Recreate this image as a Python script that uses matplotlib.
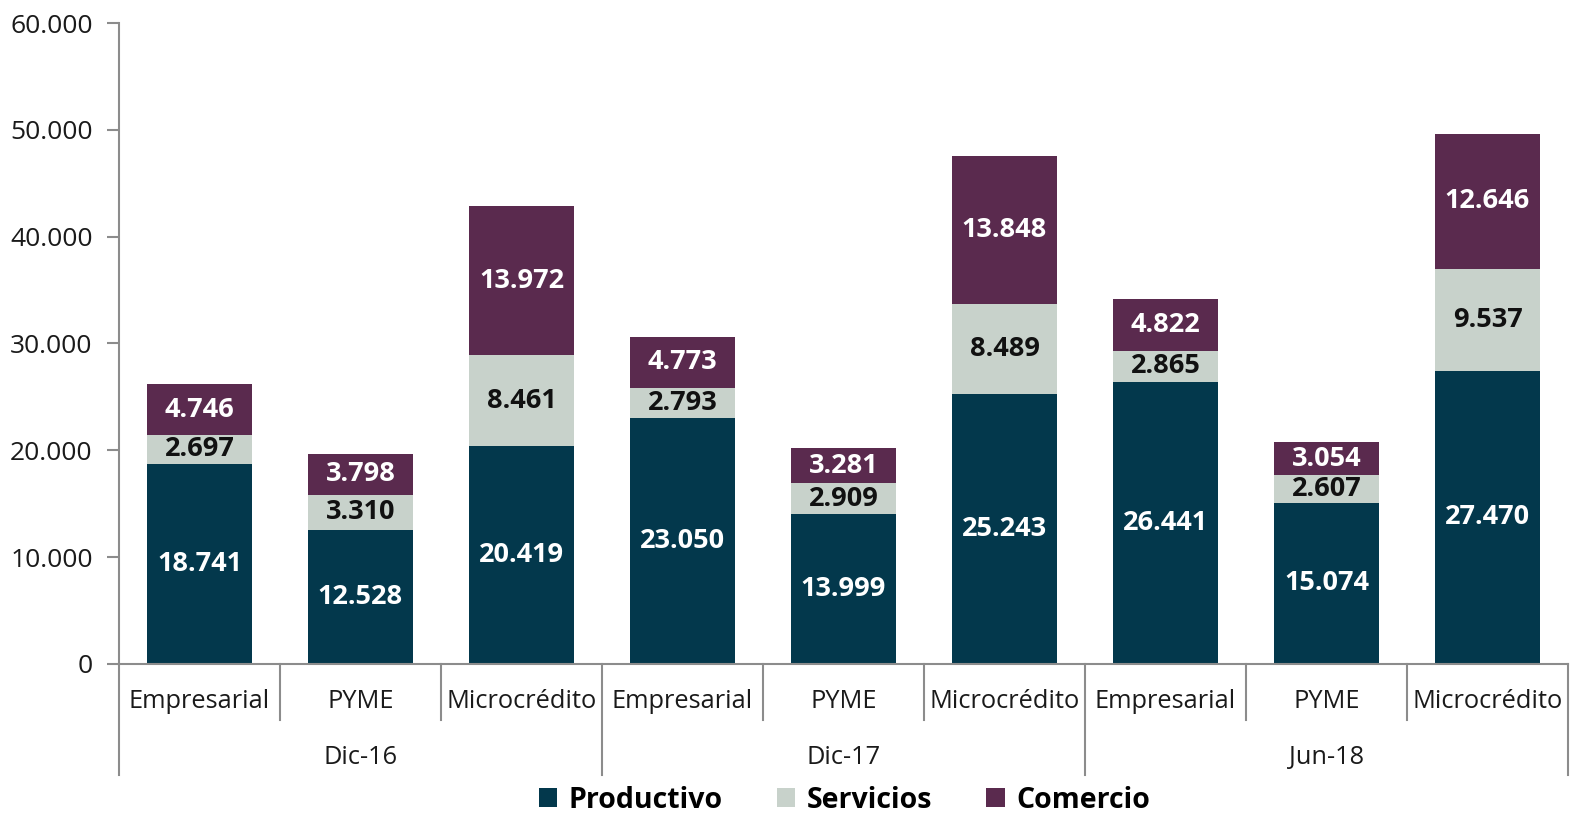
import matplotlib.pyplot as plt
from matplotlib.patches import Patch
import numpy as np

# Values
periodos = ['Dic-16', 'Dic-17', 'Jun-18']
carteras = ['Empresarial', 'PYME', 'Microcrédito']
productivo = [18741, 12528, 20419, 23050, 13999, 25243, 26441, 15074, 27470]
servicios = [2697, 3310, 8461, 2793, 2909, 8489, 2865, 2607, 9537]
comercio = [4746, 3798, 13972, 4773, 3281, 13848, 4822, 3054, 12646]
series_names = ['Productivo', 'Servicios', 'Comercio']
y_ticks = [0, 10000, 20000, 30000, 40000, 50000, 60000]

colors = ['#03384C', '#C8D2CB', '#5A2A4E']
text_colors = ['white', '#111111', 'white']
grey = '#8C8C8C'


def fmt(v):
    return f'{v:,.0f}'.replace(',', '.')


def main():
    plt.rcParams['font.family'] = ['Open Sans', 'DejaVu Sans']

    fig = plt.figure(figsize=(15.78, 8.19), dpi=100)
    ax = fig.add_axes([0.0754, 0.1893, 0.9183, 0.7826])

    x = np.arange(len(productivo))
    bottom = np.zeros(len(x))
    for vals, col, tcol in zip([productivo, servicios, comercio], colors, text_colors):
        ax.bar(x, vals, width=0.65, bottom=bottom, color=col)
        for xi, b, v in zip(x, bottom, vals):
            ax.text(xi, b + v / 2, fmt(v), ha='center', va='center',
                    color=tcol, fontsize=19.5, fontweight='bold')
        bottom = bottom + np.array(vals)

    ax.set_xlim(-0.5, len(x) - 0.5)
    ax.set_ylim(0, 60000)
    ax.set_yticks(y_ticks)
    ax.set_yticklabels([fmt(v) for v in y_ticks], fontsize=19, color='#1a1a1a')
    ax.tick_params(axis='y', length=9, width=1.5, color=grey, pad=10)

    for s in ['top', 'right']:
        ax.spines[s].set_visible(False)
    for s in ['left', 'bottom']:
        ax.spines[s].set_color(grey)
        ax.spines[s].set_linewidth(1.5)

    # hierarchical category axis
    ax.set_xticks([])
    trans = ax.get_xaxis_transform()
    n_sub = len(carteras)
    for i in range(len(x)):
        ax.text(i, -0.059, carteras[i % n_sub], transform=trans, ha='center',
                va='center', fontsize=18.3, color='#1a1a1a')
    for g, p in enumerate(periodos):
        ax.text(g * n_sub + 1, -0.146, p, transform=trans, ha='center',
                va='center', fontsize=18.3, color='#1a1a1a')
    for i in range(len(x) + 1):
        edge = i - 0.5
        bottom_y = -0.173 if i % n_sub == 0 else -0.087
        ax.plot([edge, edge], [0, bottom_y], transform=trans, color=grey,
                lw=1.5, clip_on=False)

    handles = [Patch(facecolor=c, label=n) for c, n in zip(colors, series_names)]
    fig.legend(handles=handles, loc='center', bbox_to_anchor=(0.535, 0.023),
               ncol=3, frameon=False, prop={'size': 20.5, 'weight': 'bold'},
               handlelength=0.65, handleheight=0.65, handletextpad=0.4,
               columnspacing=1.9)

    fig.savefig('out.png', dpi=100)


if __name__ == '__main__':
    main()
